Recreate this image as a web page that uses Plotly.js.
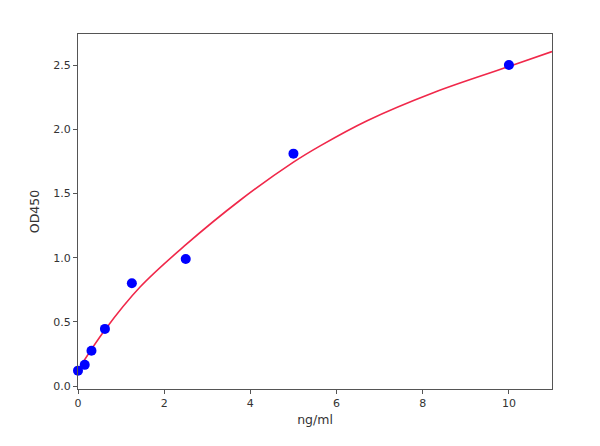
<!DOCTYPE html>
<html>
<head>
<meta charset="utf-8">
<script src="https://cdn.plot.ly/plotly-3.0.1.min.js"></script>
<style>html,body{margin:0;padding:0;background:#fff;}#chart{width:600px;height:446px;}</style>
</head>
<body>
<div id="chart"></div>
<script>
// Measured standards
const concentrations = [0, 0.156, 0.3125, 0.625, 1.25, 2.5, 5, 10];
const odValues = [0.12, 0.165, 0.275, 0.445, 0.80, 0.99, 1.81, 2.50];
// Fitted curve
const curveX = [0, 0.62, 1.44, 2.49, 3.77, 5.0, 5.63, 6.71, 8.26, 10, 11];
const curveY = [0.125, 0.435, 0.771, 1.097, 1.449, 1.744, 1.873, 2.067, 2.287, 2.489, 2.605];
const xTicks = [0, 2, 4, 6, 8, 10];
const yTicks = [0.0, 0.5, 1.0, 1.5, 2.0, 2.5];

const traces = [
  {x: curveX, y: curveY, mode: 'lines', line: {color: '#f0284a', width: 1.6, shape: 'spline', smoothing: 1.0}, hoverinfo: 'skip'},
  {x: concentrations, y: odValues, mode: 'markers', marker: {color: '#0000ff', size: 10}, cliponaxis: false}
];
const axisCommon = {
  showgrid: false, zeroline: false, showline: true, mirror: true,
  linecolor: '#555', linewidth: 1, ticks: 'outside', ticklen: 4, tickcolor: '#555',
  tickfont: {family: 'DejaVu Sans', size: 11, color: '#333'}
};
const layout = {
  width: 600, height: 446,
  margin: {l: 78, r: 48, t: 34, b: 57},
  paper_bgcolor: '#fff', plot_bgcolor: '#fff',
  showlegend: false,
  xaxis: Object.assign({}, axisCommon, {
    range: [0, 11], tickvals: xTicks, ticktext: xTicks.map(String),
    title: {text: 'ng/ml', font: {family: 'DejaVu Sans', size: 12.5, color: '#333'}, standoff: 6}
  }),
  yaxis: Object.assign({}, axisCommon, {
    range: [-0.023, 2.742], tickvals: yTicks, ticktext: yTicks.map(v => v.toFixed(1)),
    title: {text: 'OD450', font: {family: 'DejaVu Sans', size: 12.5, color: '#333'}, standoff: 10}
  })
};
Plotly.newPlot('chart', traces, layout, {displayModeBar: false, staticPlot: true});
</script>
</body>
</html>
